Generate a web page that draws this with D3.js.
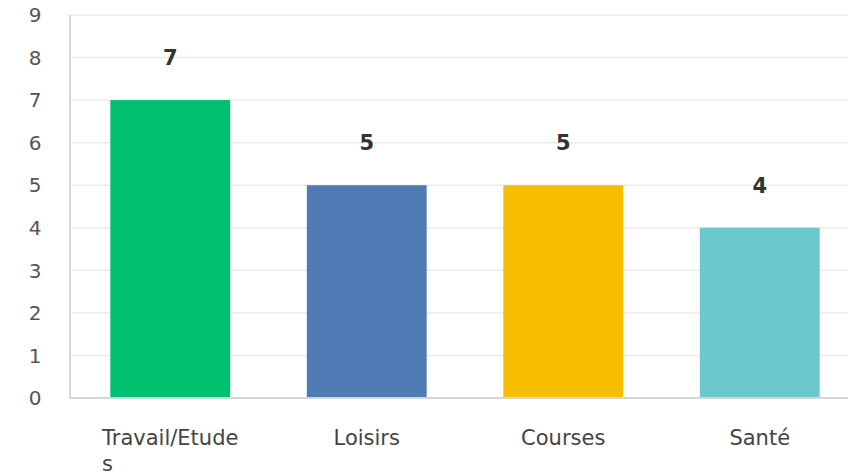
<!DOCTYPE html>
<html>
<head>
<meta charset="utf-8">
<script src="https://cdn.jsdelivr.net/npm/d3@7"></script>
<style>
  body { margin: 0; background: #fff; }
  svg { display: block; font-family: "DejaVu Sans", sans-serif; }
</style>
</head>
<body>
<svg id="chart"></svg>
<script>
// data
var categories = ["Travail/Etudes", "Loisirs", "Courses", "Santé"];
var values = [7, 5, 5, 4];
var colors = ["#00bf6f", "#507cb6", "#f7be00", "#6bc8cd"];
var yTicks = [0, 1, 2, 3, 4, 5, 6, 7, 8, 9];

var svgWidth = 848, svgHeight = 476;
var margin = { top: 15, right: 0, bottom: 78, left: 70 };

var svg = d3.select("#chart")
    .attr("width", svgWidth)
    .attr("height", svgHeight);

var x = d3.scaleBand()
    .domain(categories)
    .range([margin.left + 2, margin.left + 788])
    .paddingInner(0.39)
    .paddingOuter(0.195);

var y = d3.scaleLinear()
    .domain([0, 9])
    .range([svgHeight - margin.bottom, margin.top]);

// gridlines
svg.append("g")
    .selectAll("line")
    .data(yTicks.filter(function(d) { return d > 0; }))
    .join("line")
    .attr("x1", margin.left)
    .attr("x2", svgWidth)
    .attr("y1", function(d) { return y(d); })
    .attr("y2", function(d) { return y(d); })
    .attr("stroke", "#ebebeb")
    .attr("stroke-width", 1.5);

// y tick labels
svg.append("g")
    .selectAll("text")
    .data(yTicks)
    .join("text")
    .attr("x", 35)
    .attr("y", function(d) { return y(d); })
    .attr("dy", "0.36em")
    .attr("text-anchor", "middle")
    .attr("fill", "#555")
    .attr("font-size", 20)
    .text(function(d) { return d; });

// bars
svg.append("g")
    .selectAll("rect")
    .data(values)
    .join("rect")
    .attr("x", function(d, i) { return x(categories[i]); })
    .attr("y", function(d) { return y(d); })
    .attr("width", x.bandwidth())
    .attr("height", function(d) { return y(0) - y(d); })
    .attr("fill", function(d, i) { return colors[i]; });

// axis lines
svg.append("line")
    .attr("x1", margin.left).attr("x2", margin.left)
    .attr("y1", y(9)).attr("y2", y(0))
    .attr("stroke", "#d6d6d6").attr("stroke-width", 2);
svg.append("line")
    .attr("x1", margin.left - 1).attr("x2", svgWidth)
    .attr("y1", y(0)).attr("y2", y(0))
    .attr("stroke", "#d6d6d6").attr("stroke-width", 2);

// value labels, one unit above the bar
svg.append("g")
    .selectAll("text")
    .data(values)
    .join("text")
    .attr("x", function(d, i) { return x(categories[i]) + x.bandwidth() / 2; })
    .attr("y", function(d) { return y(d + 1); })
    .attr("dy", "0.36em")
    .attr("text-anchor", "middle")
    .attr("fill", "#333")
    .attr("font-weight", "bold")
    .attr("font-size", 21)
    .text(function(d) { return d; });

// category labels, broken by character when too wide
var maxLabel = 140;
var labels = svg.append("g")
    .selectAll("text")
    .data(categories)
    .join("text")
    .attr("x", function(d) { return x(d) + x.bandwidth() / 2; })
    .attr("y", 445)
    .attr("fill", "#444")
    .attr("font-size", 21);

labels.each(function(d) {
    var t = d3.select(this);
    var cx = +t.attr("x");
    var tmp = t.append("tspan").text(d);
    if (tmp.node().getComputedTextLength() <= maxLabel) {
        tmp.attr("text-anchor", "middle");
        return;
    }
    tmp.remove();
    var line = "", lines = [];
    var probe = t.append("tspan");
    d.split("").forEach(function(ch) {
        probe.text(line + ch);
        if (probe.node().getComputedTextLength() > maxLabel && line) {
            lines.push(line);
            line = ch;
        } else {
            line += ch;
        }
    });
    lines.push(line);
    probe.remove();
    var w = 0;
    lines.forEach(function(l) {
        var p = t.append("tspan").text(l);
        w = Math.max(w, p.node().getComputedTextLength());
        p.remove();
    });
    lines.forEach(function(l, i) {
        t.append("tspan")
            .attr("x", cx - w / 2)
            .attr("dy", i ? 26 : 0)
            .text(l);
    });
});
</script>
</body>
</html>
